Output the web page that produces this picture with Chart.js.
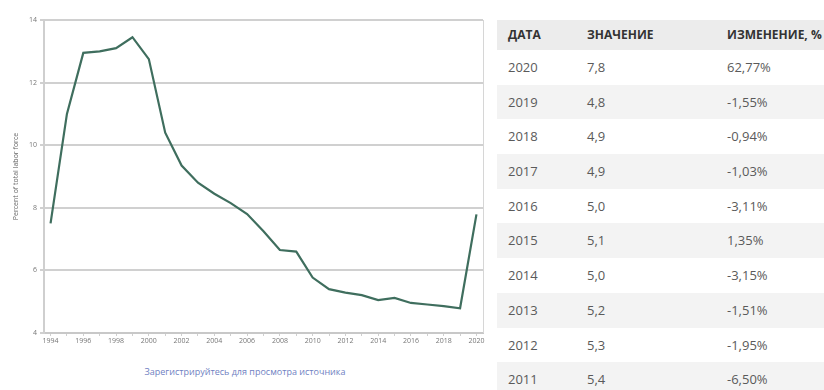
<!DOCTYPE html>
<html>
<head>
<meta charset="utf-8">
<script src="https://cdn.jsdelivr.net/npm/chart.js@4/dist/chart.umd.min.js"></script>
<style>
  body { margin: 0; width: 824px; height: 390px; overflow: hidden; background: #fff; font-family: "Open Sans", sans-serif; position: relative; }
  #chartBox { position: absolute; left: 0; top: 0; width: 490px; height: 350px; }
  #source { position: absolute; left: 0; width: 490px; top: 365px; text-align: center; font-size: 9px; color: #6f7fc2; }
  #table { position: absolute; left: 497px; top: 20px; width: 340px; }
  .row { height: 34.7px; line-height: 34.7px; white-space: nowrap; font-size: 13px; color: #5a5a5a; }
  .row.head { height: 30px; line-height: 30px; font-size: 12px; font-weight: 700; color: #333; background: #ececec; }
  .row.alt { background: #f3f3f3; }
  .row span { display: inline-block; }
  .c1 { width: 79px; padding-left: 11px; box-sizing: border-box; }
  .c2 { width: 140px; padding-left: 11px; box-sizing: border-box; }
  .c3 { padding-left: 11px; }
</style>
</head>
<body>
<div id="chartBox"><canvas id="lfChart" width="490" height="350"></canvas></div>
<div id="source">Зарегистрируйтесь для просмотра источника</div>
<div id="table"></div>
<script>
const years = [1994,1995,1996,1997,1998,1999,2000,2001,2002,2003,2004,2005,2006,2007,2008,2009,2010,2011,2012,2013,2014,2015,2016,2017,2018,2019,2020];
const values = [7.5,11.0,12.95,13.0,13.1,13.45,12.75,10.4,9.35,8.8,8.45,8.15,7.8,7.25,6.65,6.6,5.77,5.40,5.29,5.21,5.05,5.12,4.96,4.91,4.86,4.79,7.79];

const headers = ["ДАТА","ЗНАЧЕНИЕ","ИЗМЕНЕНИЕ, %"];
const tableYears = ["2020","2019","2018","2017","2016","2015","2014","2013","2012","2011"];
const tableValues = ["7,8","4,8","4,9","4,9","5,0","5,1","5,0","5,2","5,3","5,4"];
const tableChanges = ["62,77%","-1,55%","-0,94%","-1,03%","-3,11%","1,35%","-3,15%","-1,51%","-1,95%","-6,50%"];

let html = `<div class="row head"><span class="c1">${headers[0]}</span><span class="c2">${headers[1]}</span><span class="c3">${headers[2]}</span></div>`;
tableYears.forEach((y,i)=>{
    html += `<div class="row${i%2 ? " alt" : ""}"><span class="c1">${y}</span><span class="c2">${tableValues[i]}</span><span class="c3">${tableChanges[i]}</span></div>`;
});
document.getElementById("table").innerHTML = html;

// thin frame line on the right of the plot
const rightBorder = {
    id: "rightBorder",
    afterDraw(c){
        const a = c.chartArea, ctx = c.ctx;
        ctx.save();
        ctx.strokeStyle = "#d6d6d6";
        ctx.lineWidth = 1;
        ctx.beginPath();
        ctx.moveTo(a.right + 0.5, a.top);
        ctx.lineTo(a.right + 0.5, a.bottom);
        ctx.stroke();
        ctx.restore();
    }
};

new Chart(document.getElementById("lfChart"), {
    type: "line",
    data: {
        datasets: [{
            data: years.map((y,i)=>({x:y, y:values[i]})),
            borderColor: "#3f6e5e",
            borderWidth: 2.2,
            pointRadius: 0,
            tension: 0
        }]
    },
    options: {
        responsive: false,
        animation: false,
        layout: { padding: { top: 20, right: 7, left: 0, bottom: 0 } },
        plugins: { legend: { display: false }, tooltip: { enabled: false } },
        scales: {
            x: {
                type: "linear",
                min: 1993.6,
                max: 2020.4,
                afterFit: s => { s.height = 17; },
                border: { color: "#c8c8c8", width: 2 },
                grid: { drawOnChartArea: false, color: "#cfcfcf", tickLength: 3 },
                ticks: {
                    stepSize: 1,
                    includeBounds: false,
                    autoSkip: false,
                    maxRotation: 0,
                    padding: 1,
                    color: "#777",
                    font: { family: "Open Sans", size: 7 },
                    callback: v => (v % 2 === 0 ? String(v) : "")
                }
            },
            y: {
                min: 4,
                max: 14,
                afterFit: s => { s.width = 44; },
                border: { color: "#cfcfcf", width: 2 },
                grid: { color: "#d0d0d0", lineWidth: 2, tickLength: 4 },
                ticks: { stepSize: 2, padding: 3, color: "#777", font: { family: "Open Sans", size: 7 } },
                title: {
                    display: true,
                    text: "Percent of total labor force",
                    color: "#666",
                    font: { family: "Open Sans", size: 7 },
                    padding: { top: 12, bottom: 0 }
                }
            }
        }
    },
    plugins: [rightBorder]
});
</script>
</body>
</html>
